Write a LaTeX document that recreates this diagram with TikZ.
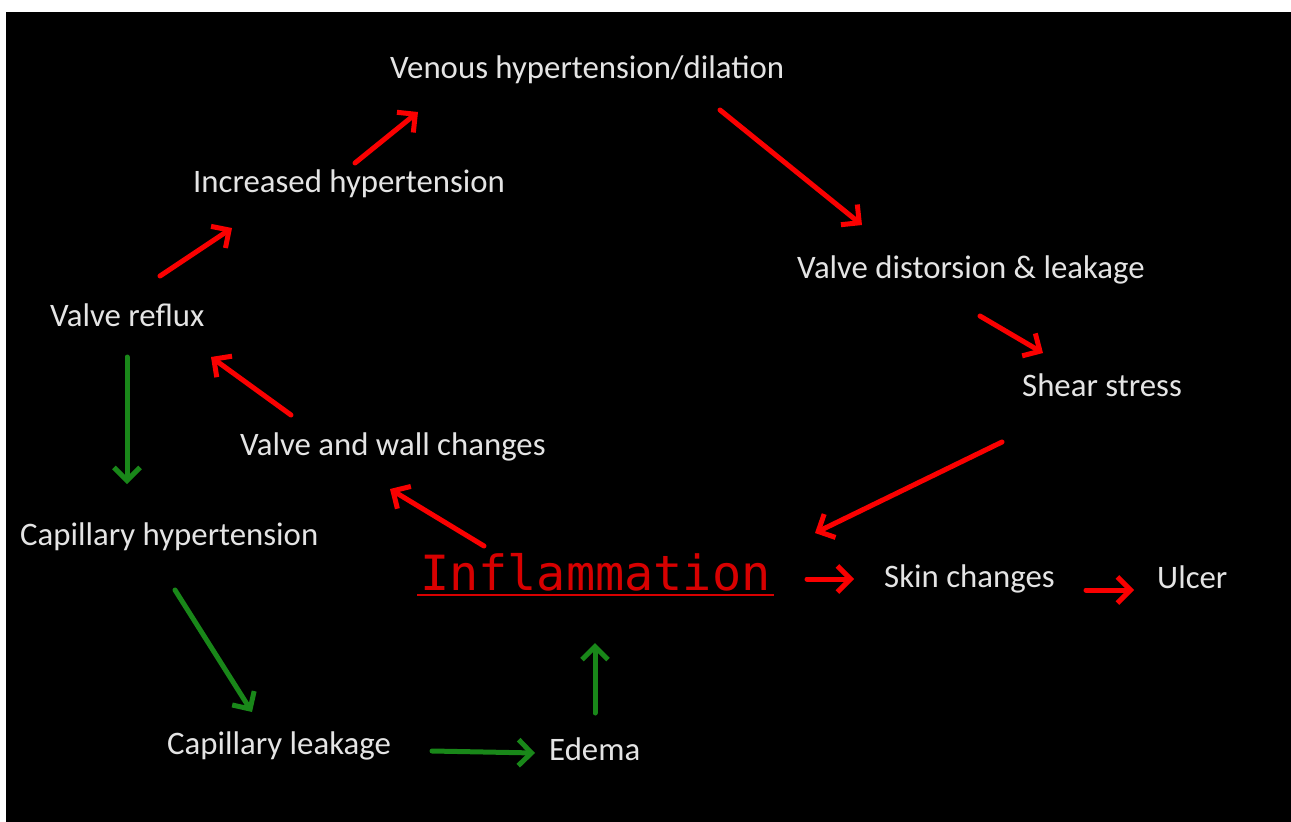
\documentclass[tikz,border=0pt]{standalone}
\usepackage{fontspec}
\setmainfont{Carlito}
\newfontfamily\inflfont{DejaVu Sans Mono}
\usetikzlibrary{arrows.meta}
\definecolor{arrred}{RGB}{250,0,0}
\definecolor{arrgreen}{RGB}{25,135,25}
\definecolor{txtgray}{RGB}{228,228,228}
\definecolor{inflred}{RGB}{215,0,0}

\begin{document}
\begin{tikzpicture}[x=1pt, y=-1pt,
    lbl/.style={anchor=base west, inner sep=0pt, text=txtgray, font=\fontsize{32.8}{38}\selectfont},
    redarr/.style={draw=arrred, line width=5pt, line cap=round, -{Straight Barb[length=13pt,width=26pt]}},
    greenarr/.style={draw=arrgreen, line width=5pt, line cap=round, -{Straight Barb[length=13pt,width=26pt]}}]
    % background
    \fill[white] (0,0) rectangle (1291,822);
    \fill[black] (6,12) rectangle (1291,822);
    \useasboundingbox (0,0) rectangle (1291,822);

    % labels
    \node[lbl] (venous) at (390,78) {Venous hypertension/dilation};
    \node[lbl] (increased) at (193,192) {Increased hypertension};
    \node[lbl] (distort) at (797,278) {Valve distorsion \& leakage};
    \node[lbl] (reflux) at (50,326) {Valve reflux};
    \node[lbl] (shear) at (1022,396) {Shear stress};
    \node[lbl] (wall) at (240,455) {Valve and wall changes};
    \node[lbl] (caphyp) at (20,545) {Capillary hypertension};
    \node[lbl, text=inflred, font=\inflfont\fontsize{48.5}{56}\selectfont] (infl) at (420,590) {Inflammation};
    \node[lbl] (skin) at (884,587) {Skin changes};
    \node[lbl] (ulcer) at (1157,588) {Ulcer};
    \node[lbl] (capleak) at (167,754) {Capillary leakage};
    \node[lbl] (edema) at (549,760) {Edema};

    % underline of Inflammation
    \draw[inflred, line width=2.5pt] ([shift={(-3,5)}]infl.base west) -- ([shift={(3,5)}]infl.base east);

    % red cycle
    \draw[redarr] ([shift={(162,-29)}]increased.base west) -- ([shift={(28,34)}]venous.base west);
    \draw[redarr] ([shift={(110,-50)}]reflux.base west) -- ([shift={(39,36)}]increased.base west);
    \draw[redarr] ([shift={(330,32)}]venous.base west) -- ([shift={(65,-53)}]distort.base west);
    \draw[redarr] ([shift={(183,38)}]distort.base west) -- ([shift={(21,-43)}]shear.base west);
    \draw[redarr] ([shift={(-20,46)}]shear.base west) -- ([shift={(395,-57)}]infl.base west);
    \draw[redarr] ([shift={(64,-44)}]infl.base west) -- ([shift={(150,34)}]wall.base west);
    \draw[redarr] ([shift={(51,-40)}]wall.base west) -- ([shift={(161,31)}]reflux.base west);
    \draw[redarr] ([shift={(387,-11)}]infl.base west) -- ([shift={(-30,-8)}]skin.base west);
    \draw[redarr] ([shift={(202,3)}]skin.base west) -- ([shift={(-23,2)}]ulcer.base west);

    % green chain
    \draw[greenarr] ([shift={(77,31)}]reflux.base west) -- ([shift={(107,-61)}]caphyp.base west);
    \draw[greenarr] ([shift={(155,45)}]caphyp.base west) -- ([shift={(85,-42)}]capleak.base west);
    \draw[greenarr] ([shift={(265,-3)}]capleak.base west) -- ([shift={(-14,-7)}]edema.base west);
    \draw[greenarr] ([shift={(46,-47)}]edema.base west) -- ([shift={(175,53)}]infl.base west);
\end{tikzpicture}
\end{document}
